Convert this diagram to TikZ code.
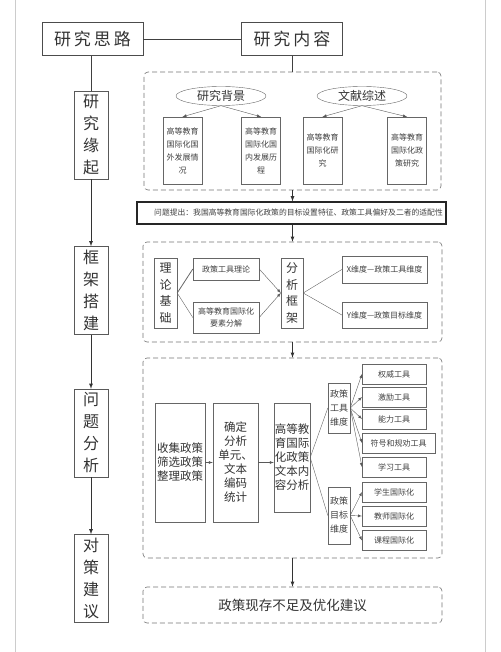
\documentclass[tikz,border=0pt]{standalone}
\usepackage{fontspec}
\setmainfont{Noto Sans CJK SC}
\usetikzlibrary{shapes.geometric}
\newcommand{\fsz}[2]{\fontsize{#1}{#2}\selectfont}

\begin{document}
\begin{tikzpicture}
    [x=1pt, y=-1pt,
    >=latex,
    inner sep=0pt,
    line/.style={
        draw, thick, color=black!75
    },
    arrow/.style={
        draw, thick, ->, color=black!80
    },
    thinarrow/.style={
        draw, ->, color=black!65
    },
    link/.style={
        draw, color=black!60
    },
    head/.style={draw=black!70, thick, text=black!80, font=\fsz{17}{20},
        minimum width=101pt, minimum height=33pt},
    stage/.style={draw=black!65, text=black!80, font=\fsz{16}{22}, align=center,
        minimum width=34pt, minimum height=88pt},
    region/.style={draw=black!55, semithick, dash pattern=on 5pt off 3pt, rounded corners=4pt},
    topic/.style={ellipse, draw=black!60, text=black!80, font=\fsz{12}{14},
        minimum width=90pt, minimum height=19pt},
    sbox/.style={draw=black!60, text=black!75, font=\fsz{8}{13}, align=center,
        text width=34pt, minimum width=39pt, minimum height=67pt},
    box/.style={draw=black!60, text=black!75, font=\fsz{8}{12}, align=center},
    vbox/.style={draw=black!60, text=black!80, font=\fsz{12}{16.5}, align=center,
        minimum width=23pt, minimum height=70pt},
    bigbox/.style={draw=black!60, text=black!80, font=\fsz{11.5}{14}, align=center},
    tbox/.style={draw=black!60, text=black!75, font=\fsz{8}{10}, align=center,
        anchor=west, minimum height=20pt}
    ]

    \useasboundingbox (0,0) rectangle (500,652);
    % 外框
    \draw[black!20] (15,0) -- (15,652);
    \draw[black!20] (485,0) -- (485,652);

    % 标题
    \node[head] (silu) at (92.5,39) {研\kern3pt究\kern3pt思\kern3pt路};
    \node[head] (neirong) at (292,39) {研\kern3pt究\kern3pt内\kern3pt容};
    \draw[line] (silu) -- (neirong);

    % 研究思路
    \foreach \txt/\pos/\y in {研\\究\\缘\\起/1/135, 框\\架\\搭\\建/2/290.5, 问\\题\\分\\析/3/433, 对\\策\\建\\议/4/578.5}{
        \node[stage] (stage\pos) at (91,\y) {\txt};
    }
    \draw[line] (stage1 |- silu.south) -- (stage1);
    \foreach \a/\b in {1/2, 2/3, 3/4}{
        \draw[arrow] (stage\a) -- (stage\b);
    }

    % 研究缘起
    \node[region, minimum width=297pt, minimum height=118pt] (yuanqi) at (292.5,131) {};
    \draw[line] (neirong) -- (neirong |- yuanqi.north);
    \node[topic] (beijing) at (221,96) {研究背景};
    \node[topic] (zongshu) at (362,96) {文献综述};
    \foreach \txt/\pos/\x in {高等教育\\国际化国\\外发展情\\况/1/182.5, 高等教育\\国际化国\\内发展历\\程/2/261, 高等教育\\国际化研\\究/3/322.5, 高等教育\\国际化政\\策研究/4/407}{
        \node[sbox] (lit\pos) at (\x,150.5) {\txt};
    }
    \draw[thinarrow] (beijing.south) -- (lit1.north);
    \draw[thinarrow] (beijing.south) -- (lit2.north);
    \draw[thinarrow] (zongshu.south) -- (lit3.north);
    \draw[thinarrow] (zongshu.south) -- (lit4.north);

    % 问题提出
    \node[draw=black!85, very thick, text=black!75, font=\fsz{7.8}{10},
        minimum width=309pt, minimum height=22pt] (wenti) at (291.5,213)
        {\hspace{14pt}问题提出：我国高等教育国际化政策的目标设置特征、政策工具偏好及二者的适配性};
    \draw[arrow] (yuanqi.south) -- (yuanqi.south |- wenti.north);

    % 框架搭建
    \node[region, minimum width=299pt, minimum height=100pt] (dajian) at (292.5,292) {};
    \draw[arrow] (wenti.south -| dajian) -- (dajian.north);
    \node[vbox] (jichu) at (165.5,293) {理\\论\\基\\础};
    \node[box, minimum width=66pt, minimum height=22pt] (gjll) at (226,269) {政策工具理论};
    \node[box, minimum width=66pt, minimum height=31pt] (ysfj) at (226,317.5) {高等教育国际化\\要素分解};
    \node[vbox, minimum width=22pt] (kuangjia) at (292,293) {分\\析\\框\\架};
    \node[box, minimum width=85pt, minimum height=27pt] (xwd) at (384.5,269.5) {X维度—政策工具维度};
    \node[box, minimum width=85pt, minimum height=26pt] (ywd) at (384.5,315) {Y维度—政策目标维度};
    \draw[link, thick] (jichu.east) -- (gjll.west);
    \draw[link] (jichu.east) -- (ysfj.west);
    \draw[thinarrow] (gjll.east) -- (kuangjia.west);
    \draw[thinarrow] (ysfj.east) -- (kuangjia.west);
    \draw[link] (kuangjia.east) -- (xwd.west);
    \draw[link] (kuangjia.east) -- (ywd.west);

    % 问题分析
    \node[region, minimum width=299pt, minimum height=200pt] (fenxi) at (292.5,458) {};
    \draw[arrow] (dajian) -- (fenxi);
    \node[bigbox, minimum width=50pt, minimum height=119pt] (shouji) at (180,462.5) {收集政策\\筛选政策\\整理政策};
    \node[bigbox, minimum width=45pt, minimum height=119pt] (queding) at (235.5,462.5) {确定\\分析\\单元、\\文本\\编码\\统计};
    \node[bigbox, minimum width=36pt, minimum height=109pt] (wenben) at (292,457.5) {高等教\\育国际\\化政策\\文本内\\容分析};
    \draw[thinarrow] (shouji) -- (queding);
    \draw[thinarrow] (queding) -- (queding -| wenben.west);
    \node[box, font=\fsz{9}{14}, minimum width=22pt, minimum height=50pt] (gjwd) at (339,408) {政策\\工具\\维度};
    \node[box, font=\fsz{9}{14}, minimum width=22pt, minimum height=57pt] (mbwd) at (339,515.5) {政策\\目标\\维度};
    \draw[link] (wenben.east) -- (gjwd.west);
    \draw[link] (wenben.east) -- (mbwd.west);
    \foreach \txt/\pos/\y/\w in {权威工具/1/374/64pt, 激励工具/2/397/64pt, 能力工具/3/419/64pt, 符号和规劝工具/4/443/73pt, 学习工具/5/467/64pt}{
        \node[tbox, minimum width=\w] (tool\pos) at (362,\y) {\txt};
        \draw[thinarrow] (gjwd.east) -- (tool\pos.west);
    }
    \foreach \txt/\pos/\y in {学生国际化/1/492, 教师国际化/2/516, 课程国际化/3/540.5}{
        \node[tbox, minimum width=64pt] (goal\pos) at (362,\y) {\txt};
        \draw[thinarrow] (mbwd.east) -- (goal\pos.west);
    }

    % 对策建议
    \node[region, minimum width=299pt, minimum height=36pt, text=black!80,
        font=\fsz{13.5}{16}] (jianyi) at (292.5,605) {政策现存不足及优化建议};
    \draw[arrow] (fenxi) -- (jianyi);
\end{tikzpicture}
\end{document}
